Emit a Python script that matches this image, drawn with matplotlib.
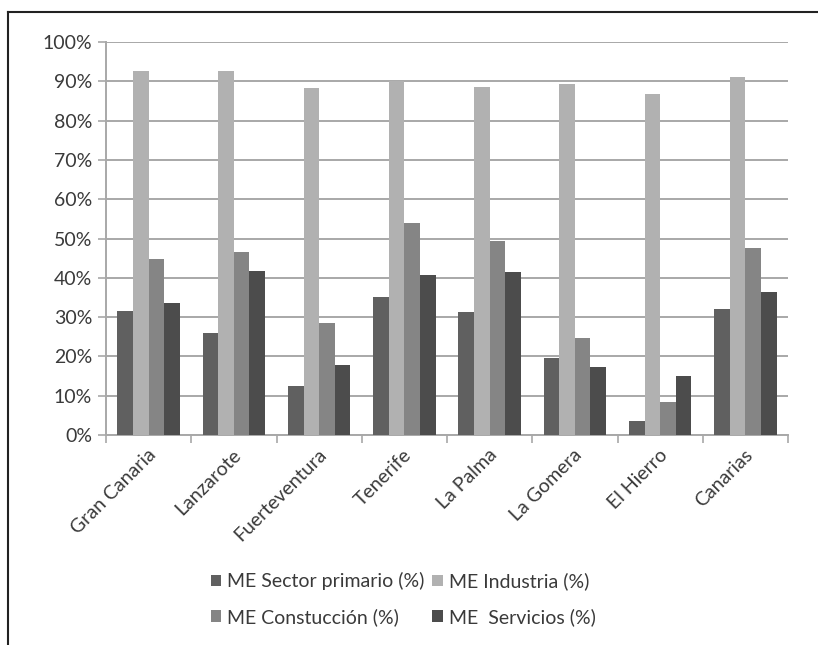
import matplotlib
matplotlib.use("Agg")
import matplotlib.pyplot as plt
import numpy as np
from matplotlib.lines import Line2D

plt.rcParams['font.family'] = ['Lato', 'DejaVu Sans']

islands = ['Gran Canaria', 'Lanzarote', 'Fuerteventura', 'Tenerife',
           'La Palma', 'La Gomera', 'El Hierro', 'Canarias']

primario = [31.5, 26.0, 12.4, 35.0, 31.2, 19.6, 3.6, 32.1]
industria = [92.5, 92.5, 88.3, 90.2, 88.5, 89.4, 86.7, 91.2]
construccion = [44.7, 46.5, 28.6, 54.0, 49.3, 24.6, 8.5, 47.7]
servicios = [33.6, 41.8, 17.9, 40.7, 41.5, 17.4, 14.9, 36.3]

series_names = ['ME Sector primario (%)', 'ME Industria (%)',
                'ME Constucción (%)', 'ME  Servicios (%)']
colors = ['#606060', '#b1b1b1', '#858585', '#4c4c4c']
txt = '#3a3a3a'

fig = plt.figure(figsize=(8.18, 6.45), dpi=100)
ax = fig.add_axes([106/818, 1-435/645, (788-106)/818, (435-42)/645])

x = np.arange(len(islands))
w = 0.183
bars = []
for i, vals in enumerate([primario, industria, construccion, servicios]):
    b = ax.bar(x + (i - 1.5) * w, vals, width=w, color=colors[i],
               label=series_names[i], zorder=3)
    bars.append(b)

ax.set_xlim(-0.5, len(islands) - 0.5)
ax.set_ylim(0, 100)
ax.set_yticks(np.arange(0, 101, 10))
ax.set_yticklabels([f'{v}%' for v in range(0, 101, 10)], fontsize=14, color=txt)
ax.yaxis.grid(True, color='#a8a8a8', linewidth=1.4, zorder=0)

# category boundary ticks
ax.set_xticks(np.arange(-0.5, len(islands)), minor=False)
ax.set_xticklabels([])
ax.tick_params(axis='x', length=6, color='#a8a8a8', width=1.2)
ax.tick_params(axis='y', length=6, color='#a8a8a8', width=1.2, pad=4)
for k, name in enumerate(islands):
    ax.text(k - 0.02, -2.8, name, rotation=45, ha='right', va='top',
            rotation_mode='anchor', fontsize=14, color=txt,
            transform=ax.transData)

for s in ['top', 'right']:
    ax.spines[s].set_visible(False)
for s in ['left', 'bottom']:
    ax.spines[s].set_color('#a8a8a8')
    ax.spines[s].set_linewidth(1.4)

handles = [bars[0], bars[2], bars[1], bars[3]]
labels = [series_names[0], series_names[2], series_names[1], series_names[3]]
fig.legend(handles, labels, loc='center', bbox_to_anchor=(0.493, 1-599/645),
           ncol=2, frameon=False, fontsize=14, labelcolor=txt,
           handlelength=0.55, handleheight=0.55, handletextpad=0.3,
           columnspacing=0.4, labelspacing=0.9)

# outer frame
fig.add_artist(Line2D([8/818, 1], [1-12/645, 1-12/645], color='#222222', lw=1.5))
fig.add_artist(Line2D([8/818, 8/818], [0, 1-12/645], color='#222222', lw=1.5))

fig.savefig('out.png', dpi=100)
